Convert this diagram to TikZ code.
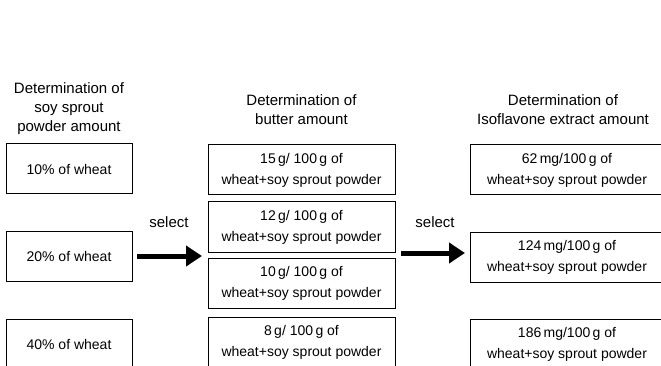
\documentclass[tikz,border=0pt]{standalone}
\usepackage{fontspec}
\setmainfont{Liberation Sans}
\usetikzlibrary{arrows.meta}

\tikzset{
  amount/.style={draw, line width=1pt, minimum height=50pt, inner sep=0pt,
    align=center, font=\fontsize{14}{21}\selectfont},
  header/.style={align=center, inner sep=0pt, font=\fontsize{15}{19}\selectfont},
  choice/.style={inner sep=0pt, font=\fontsize{15}{18}\selectfont},
  selarrow/.style={line width=5pt, -{Triangle[length=16pt,width=20pt]}}
}

\begin{document}
\begin{tikzpicture}[x=1pt,y=-1pt]

% Cadre de l'image
\useasboundingbox (0,0) rectangle (661,366);
\clip (0,0) rectangle (661,366);

% Titres des colonnes
\node[header] (hsoy) at (69,109) {Determination of\\soy sprout\\powder amount};
\node[header] (hbutter) at (301.5,110) {Determination of\\butter amount};
\node[header] (hiso) at (563,110) {Determination of\\Isoflavone extract amount};

% Poudre de soja
\node[amount, minimum width=126pt] (soyA) at (69,169) {10\% of wheat};
\node[amount, minimum width=126pt] (soyB) at (69,256.5) {20\% of wheat};
\node[amount, minimum width=126pt] (soyC) at (69,344) {40\% of wheat};

% Beurre
\node[amount, minimum width=187pt] (butA) at (301.5,170) {15\,g/ 100\,g of\\wheat+soy sprout powder};
\node[amount, minimum width=187pt] (butB) at (301.5,227) {12\,g/ 100\,g of\\wheat+soy sprout powder};
\node[amount, minimum width=187pt] (butC) at (301.5,283.5) {10\,g/ 100\,g of\\wheat+soy sprout powder};
\node[amount, minimum width=187pt] (butD) at (301.5,342) {8\,g/ 100\,g of\\wheat+soy sprout powder};

% Isoflavone
\node[amount, minimum width=194pt] (isoA) at (567,170) {62\,mg/100\,g of\\wheat+soy sprout powder};
\node[amount, minimum width=194pt] (isoB) at (567,257.5) {124\,mg/100\,g of\\wheat+soy sprout powder};
\node[amount, minimum width=194pt] (isoC) at (567,344) {186\,mg/100\,g of\\wheat+soy sprout powder};

% Flèches de sélection
\coordinate (selAs) at (137,256);
\coordinate (selAe) at (202,256);
\coordinate (selBs) at (401,253);
\coordinate (selBe) at (465,253);
\draw[selarrow] (selAs) -- (selAe);
\draw[selarrow] (selBs) -- (selBe);
\node[choice] (selA) at (169,222) {select};
\node[choice] (selB) at (435,222) {select};

\end{tikzpicture}
\end{document}
